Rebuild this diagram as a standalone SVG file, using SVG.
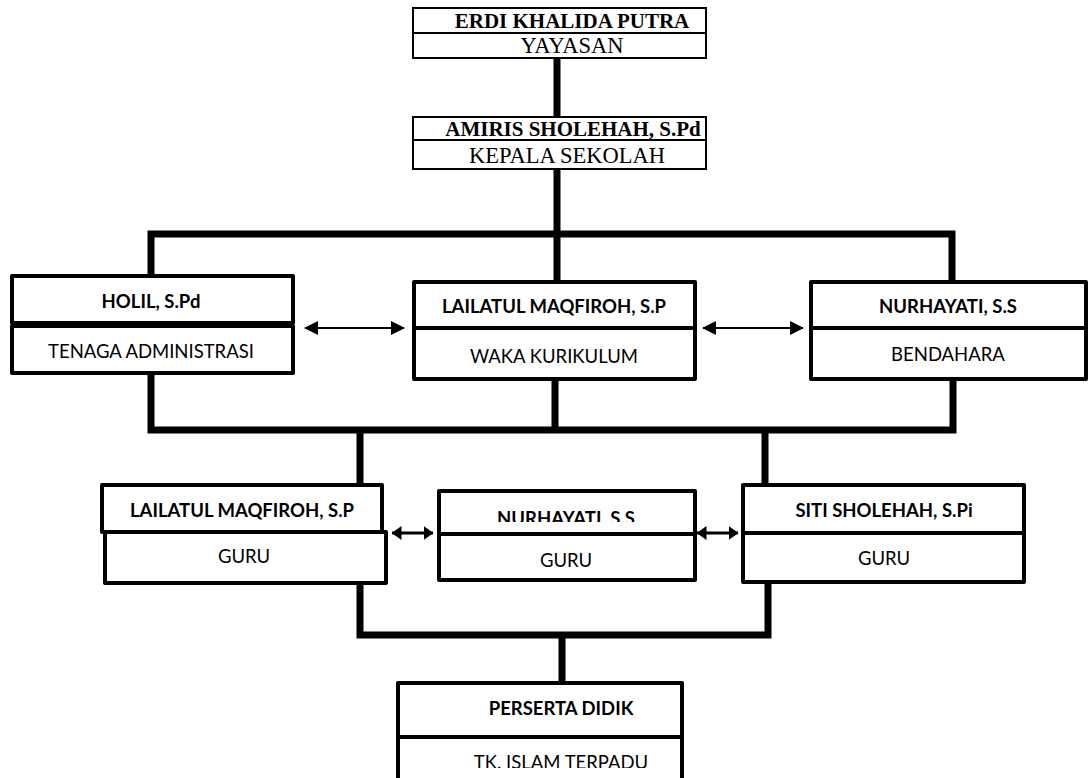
<svg xmlns="http://www.w3.org/2000/svg" width="1090" height="778" viewBox="0 0 1090 778">
<style>
.bg{fill:#fff}
.tbox{fill:#fff;stroke:#000;stroke-width:2}
.box{fill:#fff;stroke:#000;stroke-width:4;stroke-linejoin:round}
.ser{font-family:"Liberation Serif","Times New Roman",serif;font-size:22.5px;text-anchor:middle;fill:#000}
.serb{font-weight:bold;font-size:21px}
.san{font-family:Lato,"Liberation Sans",sans-serif;font-size:18.5px;text-anchor:middle;fill:#000}
.sanb{font-weight:bold}
.con{fill:none;stroke:#000;stroke-width:7;stroke-linejoin:miter}
.arr{stroke:#000;stroke-width:2;fill:none}
.arr2{stroke:#000;stroke-width:3;fill:none}
</style>
<defs>
<marker id="ah" viewBox="0 0 14 14" refX="13" refY="7" markerWidth="14" markerHeight="14" orient="auto-start-reverse" markerUnits="userSpaceOnUse">
<path d="M0,0 L14,7 L0,14 z" fill="#000"/>
</marker>
<marker id="ah2" viewBox="0 0 10 14" refX="9.5" refY="7" markerWidth="10" markerHeight="14" orient="auto-start-reverse" markerUnits="userSpaceOnUse">
<path d="M0,0 L10,7 L0,14 z" fill="#000"/>
</marker>
<clipPath id="clipN"><rect x="440" y="490" width="255" height="32"/></clipPath>
<clipPath id="clipP"><rect x="398" y="738" width="300" height="30"/></clipPath>
</defs>
<rect class="bg" x="0" y="0" width="1090" height="778"/>

<g id="connectors">
<path class="con" d="M557 58 V118"/>
<path class="con" d="M557 170 V234"/>
<path class="con" d="M151 290 V234 H952 V282"/>
<path class="con" d="M557 234 V282"/>
<path class="con" d="M151 371 V430 H953 V372"/>
<path class="con" d="M555 372 V430"/>
<path class="con" d="M360 430 V485"/>
<path class="con" d="M765 430 V485"/>
<path class="con" d="M360 576 V635 H768 V576"/>
<path class="con" d="M562 635 V692"/>
<line class="arr" x1="305" y1="328" x2="404" y2="328" marker-start="url(#ah)" marker-end="url(#ah)"/>
<line class="arr" x1="703" y1="328" x2="803" y2="328" marker-start="url(#ah)" marker-end="url(#ah)"/>
<line class="arr2" x1="392" y1="533" x2="433" y2="533" marker-start="url(#ah2)" marker-end="url(#ah2)"/>
<line class="arr2" x1="697" y1="533" x2="738" y2="533" marker-start="url(#ah2)" marker-end="url(#ah2)"/>
</g>

<g id="node-yayasan">
<rect class="tbox" x="413" y="8" width="293" height="25"/>
<rect class="tbox" x="413" y="33" width="293" height="25"/>
<text class="ser serb" x="572" y="28">ERDI KHALIDA PUTRA</text>
<text class="ser" x="572" y="53">YAYASAN</text>
</g>

<g id="node-kepala">
<rect class="tbox" x="413" y="117" width="293" height="23"/>
<rect class="tbox" x="413" y="140" width="293" height="29"/>
<text class="ser serb" x="573" y="136">AMIRIS SHOLEHAH, S.Pd</text>
<text class="ser" x="567" y="163">KEPALA SEKOLAH</text>
</g>

<g id="node-holil">
<rect class="box" x="12" y="276" width="281" height="47"/>
<rect class="box" x="12" y="326" width="281" height="47"/>
<text class="san sanb" x="151" y="308">HOLIL, S.Pd</text>
<text class="san" x="151" y="358">TENAGA ADMINISTRASI</text>
</g>

<g id="node-waka">
<rect class="box" x="414" y="282" width="281" height="46"/>
<rect class="box" x="414" y="328" width="281" height="51"/>
<text class="san sanb" x="554" y="313">LAILATUL MAQFIROH, S.P</text>
<text class="san" x="554" y="363">WAKA KURIKULUM</text>
</g>

<g id="node-bendahara">
<rect class="box" x="811" y="282" width="275" height="46"/>
<rect class="box" x="811" y="328" width="275" height="51"/>
<text class="san sanb" x="948" y="313">NURHAYATI, S.S</text>
<text class="san" x="948" y="361">BENDAHARA</text>
</g>

<g id="node-guru1">
<rect class="box" x="102" y="485" width="280" height="47"/>
<rect class="box" x="105" y="532" width="281" height="51"/>
<text class="san sanb" x="242" y="517">LAILATUL MAQFIROH, S.P</text>
<text class="san" x="244" y="563">GURU</text>
</g>

<g id="node-guru2">
<rect class="box" x="439" y="491" width="256" height="43"/>
<rect class="box" x="439" y="534" width="256" height="46"/>
<text class="san sanb" x="566" y="525" clip-path="url(#clipN)">NURHAYATI, S.S</text>
<text class="san" x="566" y="567">GURU</text>
</g>

<g id="node-guru3">
<rect class="box" x="743" y="485" width="281" height="48"/>
<rect class="box" x="743" y="533" width="281" height="49"/>
<text class="san sanb" x="884" y="517">SITI SHOLEHAH, S.Pi</text>
<text class="san" x="884" y="565">GURU</text>
</g>

<g id="node-siswa">
<rect class="box" x="398" y="683" width="284" height="54"/>
<rect class="box" x="398" y="737" width="284" height="50"/>
<text class="san sanb" x="561" y="715">PERSERTA DIDIK</text>
<text class="san" x="561" y="769" clip-path="url(#clipP)">TK. ISLAM TERPADU</text>
</g>
</svg>
